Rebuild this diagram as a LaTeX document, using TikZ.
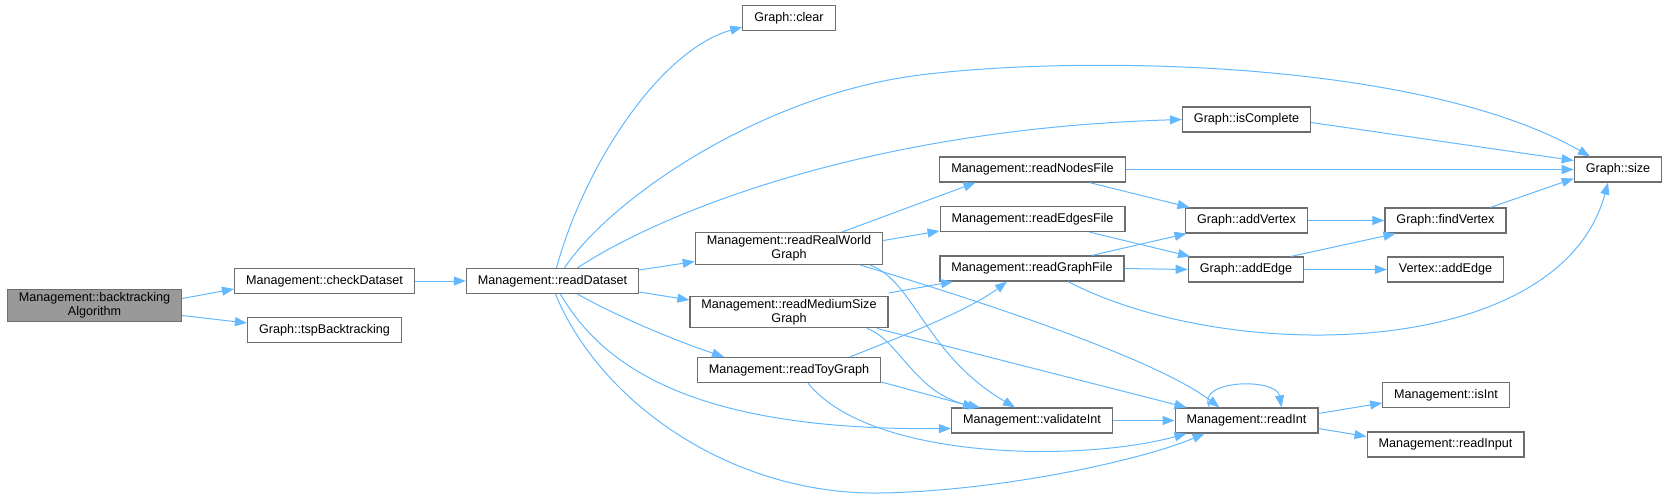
\documentclass[tikz,border=0pt]{standalone}
\usepackage{fontspec}
\setmainfont{Liberation Sans}
\usetikzlibrary{arrows.meta, calc}
\definecolor{edgeblue}{RGB}{99,184,255}
\definecolor{boxline}{RGB}{110,110,110}
\definecolor{rootfill}{RGB}{153,153,153}
\tikzset{
  every node/.style={font=\fontsize{12.6}{14}\selectfont},
  fn/.style={
    draw=boxline, line width=1.2pt, fill=white, rectangle,
    minimum height=25pt, inner xsep=11.5pt, inner ysep=3pt,
    align=center, text=black
  },
  root/.style={fn, fill=rootfill},
  call/.style={-{Triangle[length=12pt,width=9pt]}, line width=1pt, draw=edgeblue},
}

\begin{document}
\begin{tikzpicture}[x=1pt, y=-1pt]
  \useasboundingbox (0,0) rectangle (1668,498);

  % Functions, one column per call depth
  \node[root] (bt) at (94.5,305.5) {Management::backtracking\\Algorithm};
  \node[fn] (chk) at (324.5,281) {Management::checkDataset};
  \node[fn] (tsp) at (324.5,330) {Graph::tspBacktracking};
  \node[fn] (rds) at (552.5,281) {Management::readDataset};
  \node[fn] (clr) at (789,18) {Graph::clear};
  \node[fn] (rrw) at (789,248.5) {Management::readRealWorld\\Graph};
  \node[fn] (rms) at (789,312) {Management::readMediumSize\\Graph};
  \node[fn] (rtg) at (789,370) {Management::readToyGraph};
  \node[fn] (rnf) at (1032.5,169.5) {Management::readNodesFile};
  \node[fn] (ref) at (1032.5,219) {Management::readEdgesFile};
  \node[fn] (rgf) at (1032,268.5) {Management::readGraphFile};
  \node[fn] (vi) at (1032,420.5) {Management::validateInt};
  \node[fn] (isc) at (1246.5,119.5) {Graph::isComplete};
  \node[fn] (av) at (1246.5,220.5) {Graph::addVertex};
  \node[fn] (ae) at (1246,269.5) {Graph::addEdge};
  \node[fn] (ri) at (1246.5,420.5) {Management::readInt};
  \node[fn] (fv) at (1445.5,220.5) {Graph::findVertex};
  \node[fn] (vae) at (1445.5,269.5) {Vertex::addEdge};
  \node[fn] (ii) at (1446,395) {Management::isInt};
  \node[fn] (rin) at (1445.5,444.5) {Management::readInput};
  \node[fn] (sz) at (1618,169.5) {Graph::size};

  % Calls
  \draw[call] ($(bt.east)+(0,-7)$) -- ($(chk.west)+(0,8)$);
  \draw[call] ($(bt.east)+(0,10)$) -- ($(tsp.west)+(0,-7)$);
  \draw[call] (chk.east) -- (rds.west);

  \draw[call] ($(rds.north)+(4,0)$) .. controls +(28,-103) and +(-82,23) .. ($(clr.west)+(0,9)$);
  \draw[call] ($(rds.north)+(12,0)$) .. controls +(45,-68) and +(-160,20) .. (920,75)
    .. controls +(160,-20) and +(-170,-97) .. ($(sz.north)+(-28,0)$);
  \draw[call] ($(rds.north)+(25,0)$) .. controls +(72,-48) and +(-330,10) .. (isc.west);
  \draw[call] ($(rds.east)+(0,-11)$) -- ($(rrw.west)+(0,13)$);
  \draw[call] ($(rds.east)+(0,11)$) -- ($(rms.west)+(0,-12)$);
  \draw[call] ($(rds.south)+(25,0)$) .. controls +(45,25) and +(-45,-15) .. ($(rtg.north)+(-65,0)$);
  \draw[call] ($(rds.south)+(8,0)$) .. controls +(50,87) and +(-230,2) .. ($(vi.west)+(0,8)$);
  \draw[call] ($(rds.south)+(3,0)$) .. controls +(44,107) and +(-150,2) .. (880,493)
    .. controls +(120,-2) and +(-64,27) .. ($(ri.south)+(-42,0)$);

  \draw[call] ($(rrw.north)+(53,0)$) -- ($(rnf.south)+(-57,0)$);
  \draw[call] ($(rrw.east)+(0,-8)$) -- ($(ref.west)+(0,12)$);
  \draw[call] ($(rrw.south)+(81,0)$) .. controls +(45,17) and +(-90,-53) .. ($(vi.north)+(-17,0)$);
  \draw[call] ($(rrw.south)+(71,0)$) .. controls +(90,27) and +(-70,-53) .. ($(ri.north)+(-27,0)$);

  \draw[call] ($(rms.east)+(0,-19)$) -- ($(rgf.south)+(-79,0)$);
  \draw[call] ($(rms.south)+(78,0)$) .. controls +(33,12) and +(-65,-13) .. ($(vi.north)+(-52,0)$);
  \draw[call] ($(rms.south)+(88,0)$) -- ($(ri.north)+(-60,0)$);

  \draw[call] ($(rtg.north)+(61,0)$) .. controls +(50,-20) and +(-40,30) .. ($(rgf.south)+(-25,0)$);
  \draw[call] ($(rtg.east)+(0,12)$) -- ($(vi.north)+(-57,0)$);
  \draw[call] ($(rtg.south)+(19,0)$) .. controls +(62,77) and +(-107,29) .. ($(ri.south)+(-60,0)$);

  \draw[call] (rnf.east) -- (sz.west);
  \draw[call] ($(rnf.south)+(57,0)$) -- ($(av.north)+(-57,0)$);
  \draw[call] ($(ref.south)+(57,0)$) -- ($(ae.north)+(-56,0)$);
  \draw[call] ($(rgf.north)+(60,0)$) -- ($(av.south)+(-60,0)$);
  \draw[call] (rgf.east) -- (ae.west);
  \draw[call] ($(rgf.south)+(36,0)$) .. controls +(162,84) and +(-48,178) .. ($(sz.south)+(-10,0)$);

  \draw[call] ($(isc.east)+(0,3)$) -- ($(sz.west)+(0,-9)$);
  \draw[call] (av.east) -- (fv.west);
  \draw[call] ($(ae.north)+(45,0)$) -- ($(fv.south)+(-50,0)$);
  \draw[call] (ae.east) -- (vae.west);
  \draw[call] ($(fv.north)+(45,0)$) -- ($(sz.west)+(0,9)$);

  \draw[call] (vi.east) -- (ri.west);
  \draw[call] ($(ri.north)+(-37,0)$) .. controls +(-15,-28) and +(-5,-30) .. ($(ri.north)+(35,0)$);
  \draw[call] ($(ri.east)+(0,-7)$) -- ($(ii.west)+(0,8)$);
  \draw[call] ($(ri.east)+(0,8)$) -- ($(rin.west)+(0,-8)$);
\end{tikzpicture}
\end{document}
